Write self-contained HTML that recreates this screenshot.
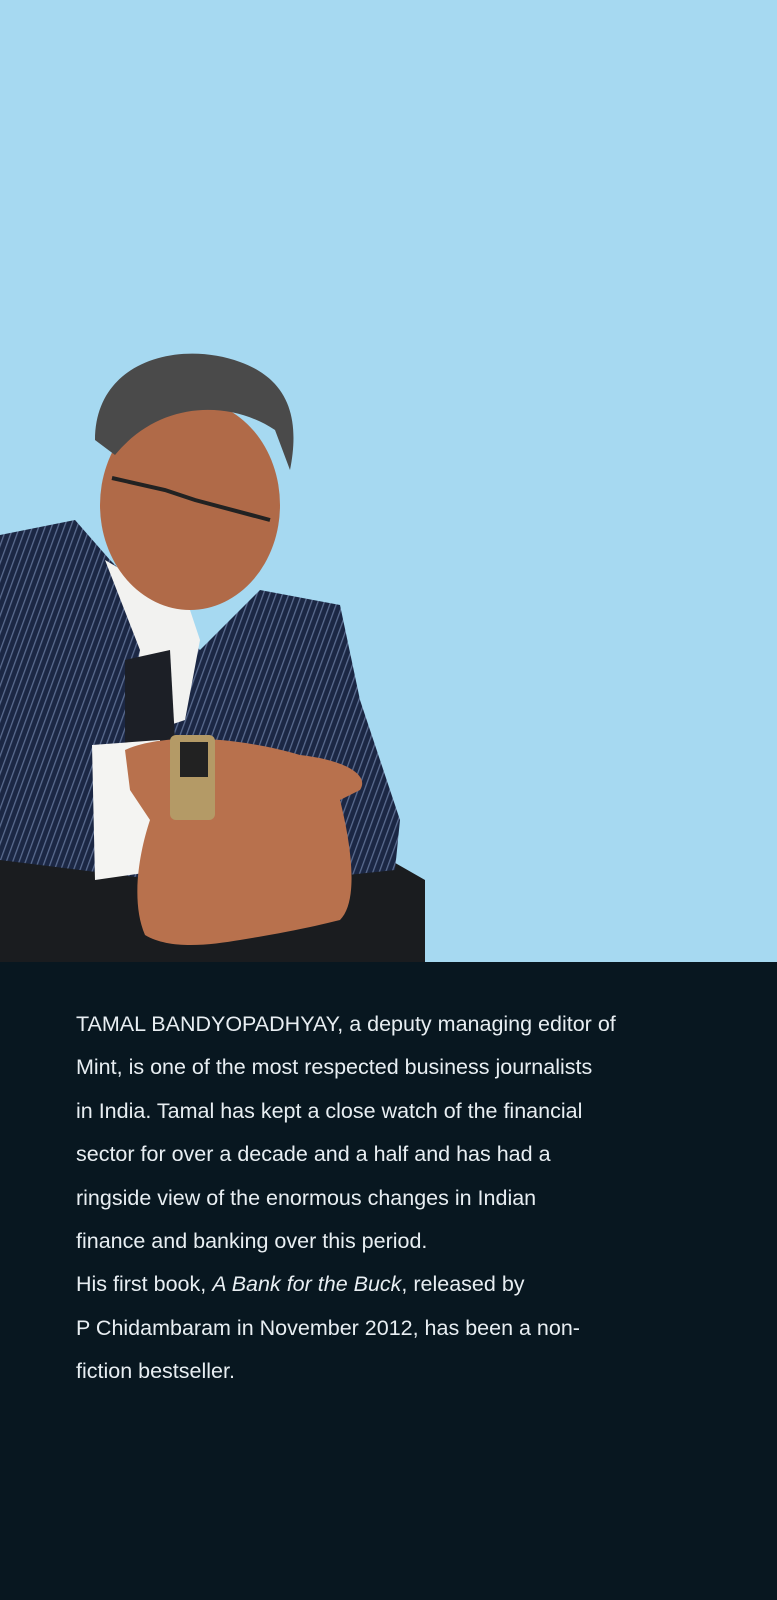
<!DOCTYPE html>
<html><head><meta charset="utf-8"><style>
html,body{margin:0;padding:0}
body{width:777px;height:1600px;position:relative;overflow:hidden;background:#a6d9f1;font-family:"Liberation Sans",sans-serif}
#bottom{position:absolute;left:0;top:962px;width:777px;height:638px;background:#081720}
#bio{position:absolute;left:76px;top:1003px;color:#e8eef2;font-size:21.5px;line-height:43.4px;white-space:nowrap}
#photo{position:absolute;left:0;top:340px}
</style></head><body>
<svg id="photo" width="440" height="625" viewBox="0 340 440 625">
<defs><pattern id="stripe" width="6" height="6" patternUnits="userSpaceOnUse" patternTransform="rotate(20)"><rect width="6" height="6" fill="#1b2744"/><rect width="1.3" height="6" fill="#5a6b8e"/></pattern></defs>
<path d="M0 850 L390 860 L425 880 L425 962 L0 962Z" fill="#1a1c1f"/>
<path d="M0 535 L75 520 L110 560 L200 650 L260 590 L340 605 L360 700 L400 820 L395 870 L300 880 L160 880 L80 870 L0 860Z" fill="url(#stripe)"/>
<path d="M105 560 L140 650 L125 740 L185 720 L200 640 L190 610Z" fill="#f2f2f0"/>
<path d="M125 660 L170 650 L175 740 L125 745Z" fill="#1c1f26"/>
<path d="M92 745 L160 740 L165 870 L95 880Z" fill="#f4f4f2"/>
<ellipse cx="190" cy="505" rx="90" ry="105" fill="#b06a48"/>
<path d="M95 440 C95 360 180 340 240 362 C290 380 300 420 290 470 L275 430 C230 400 160 400 115 455Z" fill="#4a4a4a"/>
<path d="M112 478 L165 490 L195 500 L270 520" stroke="#222" stroke-width="4" fill="none"/>
<path d="M125 750 C170 730 250 740 300 755 C345 760 370 775 360 790 L340 800 C350 840 360 900 340 920 C300 930 270 935 240 940 C210 945 170 950 145 935 C130 900 140 850 150 820 L130 790Z" fill="#b8714d"/>
<rect x="170" y="735" width="45" height="85" rx="6" fill="#b49a66"/>
<rect x="180" y="742" width="28" height="35" fill="#222"/>
</svg>
<div id="bottom"></div>
<div id="bio">
<div>TAMAL BANDYOPADHYAY, a deputy managing editor of</div>
<div>Mint, is one of the most respected business journalists</div>
<div>in India. Tamal has kept a close watch of the financial</div>
<div>sector for over a decade and a half and has had a</div>
<div>ringside view of the enormous changes in Indian</div>
<div>finance and banking over this period.</div>
<div>His first book, <i>A Bank for the Buck</i>, released by</div>
<div>P Chidambaram in November 2012, has been a non-</div>
<div>fiction bestseller.</div>
</div>
</body></html>
